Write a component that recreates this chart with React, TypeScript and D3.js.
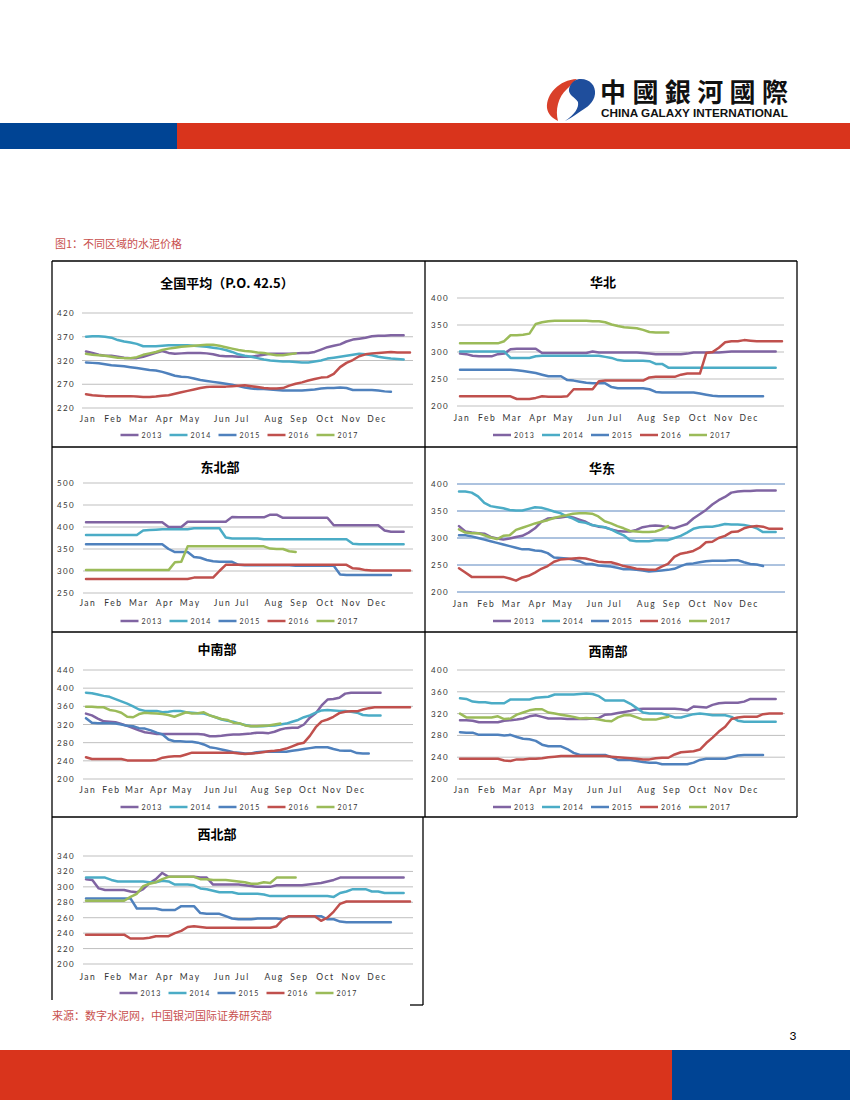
import React from 'react';
import * as d3 from 'd3';

// ---------- data ----------
const years = ['2013', '2014', '2015', '2016', '2017'];
const seriesColors = ['#8064a2', '#4bacc6', '#4f81bd', '#c0504d', '#9bbb59'];
const monthLabels = ['Jan', 'Feb', 'Mar', 'Apr', 'May', 'Jun', 'Jul', 'Aug', 'Sep', 'Oct', 'Nov', 'Dec'];
// week index at which each month label sits
const monthTickWeeks = [0.3, 4.3, 8.3, 12.4, 16.4, 21.5, 24.6, 29.6, 33.6, 37.7, 41.8, 45.8];

const titles = ['全国平均（P.O.  42.5）', '华北', '东北部', '华东', '中南部', '西南部', '西北部'];
const weekCounts = [52, 52, 52, 52, 56, 52, 52];

const ticksQuanguo = [220, 270, 320, 370, 420];
const ticksHuabei = [200, 250, 300, 350, 400];
const ticksDongbei = [250, 300, 350, 400, 450, 500];
const ticksHuadong = [200, 250, 300, 350, 400];
const ticksZhongnan = [200, 240, 280, 320, 360, 400, 440];
const ticksXinan = [200, 240, 280, 320, 360, 400];
const ticksXibei = [200, 220, 240, 260, 280, 300, 320, 340];

const quanguo = [
  [339,336,332,330,330,328,326,325,325,328,332,336,340,336,334,335,336,336,336,335,333,330,329,329,328,328,328,330,332,334,334,334,334,335,336,336,338,343,348,351,354,360,364,366,368,371,372,372,373,373,373],
  [370,371,371,370,368,363,360,358,355,350,350,350,351,352,352,352,352,351,350,349,347,345,342,338,333,330,328,325,322,320,319,318,318,317,316,316,318,320,324,326,328,330,332,334,333,331,328,326,324,323,322],
  [316,315,314,312,310,309,308,306,304,302,300,299,296,292,288,286,285,282,279,277,275,273,271,269,266,263,261,260,260,259,258,257,257,257,257,258,259,261,262,262,263,262,258,258,258,258,257,255,254],
  [249,247,246,245,245,245,245,245,244,243,243,244,246,247,250,253,256,259,262,264,265,265,265,266,267,268,266,264,262,261,261,262,267,271,274,278,281,284,285,292,306,315,321,329,333,335,336,337,338,337,337,337],
  [334,332,331,330,328,326,325,325,327,332,335,338,342,345,347,349,350,351,352,353,353,351,348,345,342,340,339,337,336,333,331,331,333,335],
];

const huabei = [
  [297,296,293,292,292,292,296,297,305,306,306,306,306,298,298,298,298,298,298,298,298,301,299,299,299,299,299,299,299,298,297,296,296,296,296,296,297,299,299,299,299,299,300,301,301,301,301,301,301,301,301],
  [301,301,301,301,301,301,301,301,289,289,289,289,292,293,293,293,293,293,293,293,293,293,293,291,289,285,284,284,284,284,283,278,278,271,271,271,271,271,271,271,271,271,271,271,271,271,271,271,271,271,271],
  [267,267,267,267,267,267,267,267,267,266,265,263,261,258,255,255,255,248,247,245,243,242,242,242,235,233,233,233,233,233,231,226,225,225,225,225,225,225,223,221,219,218,218,218,218,218,218,218,218],
  [218,218,218,218,218,218,218,218,218,213,213,213,215,218,217,217,217,218,231,231,231,231,246,247,247,247,247,247,247,247,253,254,254,254,254,258,260,260,260,298,300,308,318,320,320,322,321,320,320,320,320,320],
  [316,316,316,316,316,316,316,320,331,331,332,334,352,355,357,358,358,358,358,358,358,357,357,355,351,348,346,345,344,341,337,336,336,336],
];

const dongbei = [
  [411,411,411,411,411,411,411,411,411,411,411,411,411,400,400,400,412,412,412,412,412,412,412,423,422,422,422,422,422,428,428,421,421,421,421,421,421,421,421,404,404,404,404,404,404,404,404,392,389,389,389],
  [382,382,382,382,382,382,382,382,382,392,393,394,395,395,395,395,395,397,397,397,397,397,376,374,374,374,374,374,372,372,372,372,372,372,372,372,372,372,372,372,372,372,362,361,361,361,361,361,361,361,361],
  [361,361,361,361,361,361,361,361,361,361,361,361,361,350,343,343,343,332,330,325,322,321,321,321,314,313,313,313,313,313,313,313,313,312,312,312,312,312,312,312,292,291,291,291,291,291,291,291,291],
  [282,282,282,282,282,282,282,282,282,282,282,282,282,282,282,282,282,285,285,285,285,300,314,314,314,314,314,314,314,314,314,314,314,314,314,314,314,314,314,314,314,314,306,305,302,301,301,301,301,301,301,301],
  [302,302,302,302,302,302,302,302,302,302,302,302,302,302,320,321,356,356,356,356,356,356,356,356,356,356,356,356,356,351,350,350,345,343],
];

const huadong = [
  [322,312,310,309,308,302,299,297,299,302,304,310,318,330,336,337,338,340,338,334,330,324,321,320,316,313,312,312,315,320,322,323,322,320,318,322,326,336,344,352,362,370,376,384,386,387,387,388,388,388,388],
  [386,386,384,377,365,359,357,355,352,351,351,354,357,356,353,349,346,340,336,330,328,324,322,320,316,310,305,296,294,294,294,296,296,296,300,304,310,317,320,321,321,323,326,325,325,324,322,318,311,311,311],
  [305,305,303,300,297,294,291,288,285,282,279,279,277,276,272,264,263,262,260,257,252,252,249,248,247,245,242,242,241,240,238,239,240,241,243,248,252,253,255,257,258,258,258,259,259,255,252,251,248],
  [244,236,228,228,228,228,228,228,225,221,227,230,236,243,248,256,260,261,262,263,262,259,256,255,255,252,248,246,243,242,241,241,247,252,265,271,273,276,282,292,293,300,304,311,312,318,321,322,321,317,317,317],
  [316,310,309,309,305,301,298,304,305,315,319,323,327,330,333,337,340,342,345,346,346,345,340,331,327,322,318,313,312,311,311,312,316,322],
];

const zhongnan = [
  [344,340,333,327,326,325,321,317,312,307,303,301,299,299,299,299,299,299,299,299,298,294,294,295,297,298,298,299,300,302,302,301,304,309,312,313,313,320,335,345,362,375,376,379,388,390,390,390,390,390,390],
  [390,389,386,383,381,376,371,366,360,353,350,350,350,347,348,350,350,347,346,345,344,340,336,331,328,326,322,319,316,316,316,317,318,320,322,326,330,336,340,346,351,352,351,350,350,348,346,341,340,340,340],
  [334,324,323,323,323,322,320,317,316,312,311,307,302,298,287,283,283,282,282,280,276,270,268,265,262,259,258,256,256,259,260,260,260,260,260,262,264,266,268,270,270,270,266,263,262,262,257,256,256],
  [248,244,244,244,244,244,244,241,241,241,241,241,242,247,249,250,250,254,258,258,258,258,258,258,258,258,256,255,256,257,259,261,262,264,267,272,277,280,295,314,327,331,337,345,348,349,349,353,356,358,358,358,358,358,358,358],
  [359,359,358,358,352,350,346,337,336,343,346,345,344,343,341,337,342,347,344,345,347,340,336,332,330,324,323,318,316,316,317,318,320,322],
];

const xinan = [
  [308,308,307,304,304,304,304,307,308,309,311,315,317,314,311,311,311,310,310,310,310,311,312,318,319,321,323,325,328,329,329,329,329,329,329,328,326,333,332,331,336,339,340,340,340,342,347,347,347,347,347],
  [348,347,342,341,341,339,339,339,346,346,346,346,349,350,351,355,355,355,355,356,357,356,352,344,344,344,344,338,330,322,320,320,320,317,313,313,316,319,320,319,317,317,317,314,307,305,305,305,305,305,305],
  [286,285,285,281,281,281,281,280,281,277,274,273,270,263,260,260,260,255,248,244,244,244,244,244,240,235,235,235,233,231,230,230,227,227,227,227,227,230,235,237,237,237,237,240,243,244,244,244,244],
  [237,237,237,237,237,237,237,234,233,236,236,237,237,238,240,241,242,242,242,242,242,242,242,242,241,240,239,238,237,236,236,238,239,239,245,249,250,251,254,266,276,287,296,310,313,314,314,314,319,320,320,320],
  [320,313,313,313,313,313,315,310,311,318,322,326,328,328,322,320,318,316,314,311,312,311,309,307,306,313,317,317,313,309,309,309,312,314],
];

const xibei = [
  [310,309,298,296,296,296,296,294,293,297,305,310,318,313,313,313,313,313,312,312,303,303,303,303,303,302,301,300,300,300,302,302,302,302,302,303,304,305,307,309,312,312,312,312,312,312,312,312,312,312,312],
  [312,312,312,312,309,307,307,307,307,307,306,306,308,307,303,303,303,302,298,297,295,293,293,293,291,291,291,291,290,288,288,288,288,288,288,288,288,288,288,287,292,294,297,297,297,294,294,292,292,292,292],
  [285,285,285,285,285,285,285,285,272,272,272,272,270,270,270,275,275,275,266,265,265,265,262,259,258,258,258,259,259,259,259,258,262,262,262,262,262,262,258,258,255,254,254,254,254,254,254,254,254],
  [238,238,238,238,238,238,238,233,233,233,234,236,236,236,240,243,248,249,248,247,247,247,247,247,247,247,247,247,247,247,249,258,262,262,262,262,262,256,260,268,278,281,281,281,281,281,281,281,281,281,281,281],
  [282,282,282,282,282,282,282,287,291,301,304,306,310,313,313,313,313,313,310,310,309,309,309,308,307,306,304,304,306,305,312,312,312,312],
];

const panelData = [quanguo, huabei, dongbei, huadong, zhongnan, xinan, xibei];
const panelTicks = [ticksQuanguo, ticksHuabei, ticksDongbei, ticksHuadong, ticksZhongnan, ticksXinan, ticksXibei];

// ---------- layout ----------
type Layout = {
  box: [number, number, number, number];
  title: [number, number];
  gx: [number, number];
  dx: [number, number];
  y: [number, number];
  labelX: number;
  monthY: number;
  legendY: number;
  grid: string;
};

const layouts: Layout[] = [
  { box: [52, 261, 425, 447], title: [227, 282], gx: [82, 413], dx: [86, 410], y: [408, 313], labelX: 75, monthY: 422, legendY: 435, grid: '#bfbfbf' },
  { box: [425, 261, 797, 447], title: [603, 281], gx: [457, 784], dx: [460, 782], y: [406, 298], labelX: 449, monthY: 421, legendY: 435, grid: '#bfbfbf' },
  { box: [52, 447, 425, 632], title: [220, 466], gx: [83, 413], dx: [86, 410], y: [593, 483], labelX: 75, monthY: 606, legendY: 621, grid: '#bfbfbf' },
  { box: [425, 447, 797, 632], title: [602, 467], gx: [457, 785], dx: [459, 782], y: [592, 484], labelX: 449, monthY: 607, legendY: 621, grid: '#5a86bf' },
  { box: [52, 632, 425, 817], title: [217, 648], gx: [83, 413], dx: [86, 410], y: [779, 670], labelX: 75, monthY: 793, legendY: 807, grid: '#bfbfbf' },
  { box: [425, 632, 797, 817], title: [608, 650], gx: [457, 785], dx: [460, 782], y: [779, 670], labelX: 449, monthY: 793, legendY: 807, grid: '#bfbfbf' },
  { box: [52, 817, 423, 1005], title: [217, 833], gx: [83, 413], dx: [86, 410], y: [964, 856], labelX: 75, monthY: 980, legendY: 993, grid: '#bfbfbf' },
];

const axisFont = 'Lato, "Liberation Sans", sans-serif';
const cjkFont = '"Noto Sans CJK SC", "Noto Sans", sans-serif';

function Panel({ idx }: { idx: number }) {
  const L = layouts[idx];
  const data = panelData[idx];
  const ticks = panelTicks[idx];
  const n = weekCounts[idx];
  const x = d3.scaleLinear().domain([0, n - 1]).range(L.dx);
  const y = d3.scaleLinear().domain([ticks[0], ticks[ticks.length - 1]]).range(L.y);
  const line = d3
    .line<number>()
    .x((_, i) => x(i))
    .y((v) => y(v));
  const cx = (L.box[0] + L.box[2]) / 2;
  const legendStart = cx - 118;
  const legendStep = 49;
  return (
    <g>
      <text
        x={L.title[0]}
        y={L.title[1]}
        textAnchor="middle"
        dominantBaseline="central"
        fontFamily={cjkFont}
        fontWeight={700}
        fontSize={13}
        fill="#000"
      >
        {titles[idx]}
      </text>
      {ticks.map((t) => (
        <g key={t}>
          <line x1={L.gx[0]} x2={L.gx[1]} y1={y(t)} y2={y(t)} stroke={L.grid} strokeWidth={1} />
          <text
            x={L.labelX}
            y={y(t)}
            textAnchor="end"
            dominantBaseline="central"
            fontFamily={axisFont}
            fontSize={8}
            letterSpacing={1.4}
            fill="#333"
          >
            {t}
          </text>
        </g>
      ))}
      {monthLabels.map((m, i) => (
        <text
          key={m}
          x={x(monthTickWeeks[i])}
          y={L.monthY}
          textAnchor="middle"
          fontFamily={axisFont}
          fontSize={8.5}
          letterSpacing={1.5}
          fill="#333"
        >
          {m}
        </text>
      ))}
      {data.map((s, i) => (
        <path
          key={years[i]}
          d={line(s) || ''}
          fill="none"
          stroke={seriesColors[i]}
          strokeWidth={2.5}
          strokeLinejoin="round"
          strokeLinecap="round"
        />
      ))}
      {years.map((yr, i) => (
        <g key={yr}>
          <line
            x1={legendStart + i * legendStep}
            x2={legendStart + i * legendStep + 18}
            y1={L.legendY}
            y2={L.legendY}
            stroke={seriesColors[i]}
            strokeWidth={2.5}
          />
          <text
            x={legendStart + i * legendStep + 21}
            y={L.legendY}
            dominantBaseline="central"
            fontFamily={axisFont}
            fontSize={7}
            letterSpacing={1.2}
            fill="#333"
          >
            {yr}
          </text>
        </g>
      ))}
    </g>
  );
}

export default function App() {
  return (
    <svg
      width={850}
      height={1100}
      viewBox="0 0 850 1100"
      style={{ position: 'absolute', left: 0, top: 0, background: '#fff' }}
    >
      <rect x={0} y={0} width={850} height={1100} fill="#fff" />
      {/* header logo */}
      <path
        d="M577,79 C559,80 546,94 547,108 C548,114 552,118 558,121 C555,110 558,97 567,89 C571,85 574,82 577,79 Z"
        fill="#d9402a"
      />
      <path
        d="M579,79 C589,78 596,85 595,94 C594,103 586,108 581,111 C576,114 572,118 565,121 C575,114 579,108 578,102 C575,97 568,95 569,89 C570,84 574,80 579,79 Z"
        fill="#1f4e9c"
      />
      <text
        x={600}
        y={102}
        fontFamily='"Noto Sans CJK TC", "Noto Sans CJK SC", sans-serif'
        fontWeight={700}
        fontSize={26}
        textLength={188}
        lengthAdjust="spacing"
        fill="#111"
      >
        中國銀河國際
      </text>
      <text
        x={601}
        y={117}
        fontFamily='"Liberation Sans", Arial, sans-serif'
        fontWeight={700}
        fontSize={11.5}
        textLength={187}
        lengthAdjust="spacingAndGlyphs"
        fill="#111"
      >
        CHINA GALAXY INTERNATIONAL
      </text>
      {/* header bars */}
      <rect x={0} y={123} width={177} height={26} fill="#004494" />
      <rect x={177} y={123} width={673} height={26} fill="#d9341c" />
      {/* caption */}
      <text x={55} y={243} dominantBaseline="central" fontFamily={cjkFont} fontSize={11} fill="#c8504d">
        图1：不同区域的水泥价格
      </text>
      {/* panel borders */}
      <g stroke="#000" strokeWidth={1.3} fill="none">
        <line x1={52} y1={261} x2={797} y2={261} />
        <line x1={52} y1={447} x2={797} y2={447} />
        <line x1={52} y1={632} x2={797} y2={632} />
        <line x1={52} y1={817} x2={797} y2={817} />
        <line x1={52} y1={261} x2={52} y2={1000} />
        <line x1={425} y1={261} x2={425} y2={817} />
        <line x1={423} y1={817} x2={423} y2={1005} />
        <line x1={410} y1={1005} x2={423} y2={1005} />
        <line x1={797} y1={261} x2={797} y2={817} />
      </g>
      {layouts.map((_, i) => (
        <Panel key={i} idx={i} />
      ))}
      {/* source */}
      <text x={52} y={1015} dominantBaseline="central" fontFamily={cjkFont} fontSize={11} fill="#c8504d">
        来源：数字水泥网，中国银河国际证券研究部
      </text>
      <text x={793} y={1035} dominantBaseline="central" textAnchor="middle" fontFamily={axisFont} fontSize={12} fill="#000">
        3
      </text>
      {/* footer bars */}
      <rect x={0} y={1050} width={672} height={50} fill="#d9341c" />
      <rect x={672} y={1050} width={178} height={50} fill="#004494" />
    </svg>
  );
}
